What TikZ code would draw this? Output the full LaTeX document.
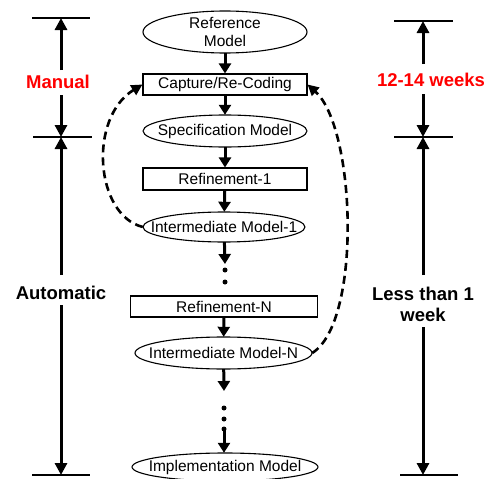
\documentclass[tikz,border=0pt]{standalone}
\usepackage{fontspec}
\setmainfont{Liberation Sans}
\usetikzlibrary{arrows.meta,shapes.geometric}
\begin{document}
\begin{tikzpicture}[x=1pt,y=-1pt,
  model/.style={rectangle,inner sep=0pt,font=\fontsize{15.5}{18}\selectfont,align=center},
  ell/.style={line width=1.1pt},
  stepbox/.style={rectangle,draw,line width=1.1pt,inner sep=0pt,font=\fontsize{15.5}{18}\selectfont},
  flow/.style={line width=3pt,-{Triangle[length=10pt,width=12pt]}},
  dimarrow/.style={line width=3pt,-{Triangle[length=12pt,width=12pt]}},
  dimline/.style={line width=1.1pt},
  fb/.style={line width=2.6pt,dash pattern=on 8pt off 5pt,-{Triangle[length=11pt,width=11pt]}},
  biglabel/.style={font=\bfseries\fontsize{18.5}{21}\selectfont,align=center},
  dotmark/.style={circle,fill,inner sep=0pt,minimum size=5pt}]
\useasboundingbox (0,0) rectangle (488,479);
% nodes
\node[model,minimum width=164pt,minimum height=42pt] (ref) at (225,32) {Reference\\Model};
\draw[ell] (ref.center) ellipse [x radius=82pt,y radius=21pt];
\node[stepbox,minimum width=164pt,minimum height=21pt] (cap) at (225,84.5) {Capture/Re-Coding};
\node[model,minimum width=164pt,minimum height=32pt] (spec) at (225,131) {Specification Model};
\draw[ell] (spec.center) ellipse [x radius=82pt,y radius=16pt];
\node[stepbox,minimum width=164pt,minimum height=22pt] (ref1) at (225,179) {Refinement-1};
\node[model,minimum width=162pt,minimum height=30pt] (im1) at (224,227) {Intermediate Model-1};
\draw[ell] (im1.center) ellipse [x radius=81pt,y radius=15pt];
\node[dotmark] (d1) at (225,270) {};
\node[dotmark] (d2) at (225,282) {};
\node[stepbox,minimum width=187pt,minimum height=21pt] (refn) at (224,306.5) {Refinement-N};
\node[model,minimum width=177pt,minimum height=32pt] (imn) at (223.5,353) {Intermediate Model-N};
\draw[ell] (imn.center) ellipse [x radius=88.5pt,y radius=16pt];
\node[dotmark] (d3) at (224,408) {};
\node[dotmark] (d4) at (224,419) {};
\node[dotmark] (d5) at (224,429) {};
\node[model,minimum width=186pt,minimum height=28pt] (impl) at (225,467) {Implementation Model};
\draw[ell] (impl.center) ellipse [x radius=93pt,y radius=14pt];
\coordinate (e1) at (225,264);
\coordinate (e2) at (224,391);
% flow arrows
\draw[flow] (ref) -- (cap);
\draw[flow] (cap) -- (spec);
\draw[flow] (spec) -- (ref1);
\draw[flow] (ref1) -- (im1);
\draw[flow] (im1) -- (e1);
\draw[flow] (refn) -- (imn);
\draw[flow] (imn) -- (e2);
\draw[flow] (d5.center) -- (d5.center |- impl.north);
% feedback
\draw[fb] (im1.west) .. controls (95,215) and (88,118) .. (cap.west);
\draw[fb] (imn.east) .. controls (362,322) and (356,128) .. (cap.east);
% left dimension
\node[biglabel,text=red] (man) at (58,82) {Manual};
\node[biglabel] (auto) at (61,293) {Automatic};
\coordinate (lt1) at (32,18); \coordinate (lt2) at (90,18);
\coordinate (lm1) at (33,137); \coordinate (lm2) at (92,137);
\coordinate (lb1) at (32,475); \coordinate (lb2) at (90,475);
\draw[dimline] (lt1) -- (lt2);
\draw[dimline] (lm1) -- (lm2);
\draw[dimline] (lb1) -- (lb2);
\draw[dimarrow] (61,70) -- (61,18);
\draw[dimarrow] (61,95) -- (61,137);
\draw[dimarrow] (61,275) -- (61,137);
\draw[dimarrow] (61,305) -- (61,475);
% right dimension
\node[biglabel,text=red] (wk) at (431,80) {12-14 weeks};
\node[biglabel] (less) at (423,304) {Less than 1\\week};
\coordinate (rt1) at (394,21); \coordinate (rt2) at (453,21);
\coordinate (rm1) at (394,137); \coordinate (rm2) at (453,137);
\coordinate (rb1) at (400,475); \coordinate (rb2) at (458,475);
\draw[dimline] (rt1) -- (rt2);
\draw[dimline] (rm1) -- (rm2);
\draw[dimline] (rb1) -- (rb2);
\draw[dimarrow] (423,64) -- (423,21);
\draw[dimarrow] (423,94) -- (423,137);
\draw[dimarrow] (423,275) -- (423,137);
\draw[dimarrow] (423,327) -- (423,475);
\end{tikzpicture}
\end{document}
